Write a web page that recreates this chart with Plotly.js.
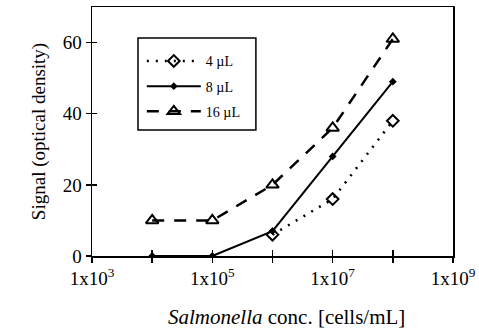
<!DOCTYPE html>
<html><head><meta charset="utf-8">
<script src="https://cdn.plot.ly/plotly-3.0.1.min.js"></script>
<style>body{margin:0;background:#fff}#c{width:479px;height:334px}</style>
</head><body><div id="c"></div>
<script>
const conc4 = [1e6, 1e7, 1e8];
const sig4 = [6, 16, 38];
const conc8 = [1e4, 1e5, 1e6, 1e7, 1e8];
const sig8 = [0, 0, 7, 28, 49];
const conc16 = [1e4, 1e5, 1e6, 1e7, 1e8];
const sig16 = [10, 10, 20, 36, 61];
const seriesNames = ['4 \u00b5L', '8 \u00b5L', '16 \u00b5L'];
const xTickVals = [1e3, 1e4, 1e5, 1e6, 1e7, 1e8, 1e9];
const xTickText = ['1x10<sup>3</sup>', '', '1x10<sup>5</sup>', '', '1x10<sup>7</sup>', '', '1x10<sup>9</sup>'];
const yTickVals = [0, 20, 40, 60];

const F = 'Liberation Serif, Times New Roman, serif';
const traces = [
  {x: conc4, y: sig4, name: seriesNames[0], legendgroup: 'a', mode: 'lines+markers',
   line: {color: '#000', width: 2.5, dash: '2px,7px'},
   marker: {symbol: 'diamond-open', size: 9, color: '#000', line: {width: 2}}},
  {x: conc8, y: sig8, name: seriesNames[1], legendgroup: 'b', mode: 'lines+markers',
   line: {color: '#000', width: 2},
   marker: {symbol: 'diamond', size: 6, color: '#000'}},
  {x: conc16, y: sig16, name: seriesNames[2], legendgroup: 'c', mode: 'lines+markers',
   line: {color: '#000', width: 2.5, dash: '12px,10px'},
   marker: {symbol: 'triangle-up-open', size: 11, color: '#000', line: {width: 2}}},
  {x: [1e3], y: [0], xaxis: 'x2', yaxis: 'y2', mode: 'markers', showlegend: false,
   hoverinfo: 'skip', marker: {opacity: 0}}
];
const layout = {
  width: 479, height: 334,
  margin: {l: 92, r: 26, t: 7, b: 78},
  paper_bgcolor: '#fff', plot_bgcolor: '#fff',
  font: {family: F, color: '#000', size: 18},
  showlegend: true,
  legend: {x: 0.138, y: 0.846, xanchor: 'left', yanchor: 'top',
    borderwidth: 0, bgcolor: 'rgba(0,0,0,0)',
    itemwidth: 54,
    font: {family: F, size: 14, color: '#000'}, tracegroupgap: 4},
  shapes: [{type: 'rect', xref: 'paper', yref: 'paper',
    x0: 0.1274, x1: 0.454, y0: 0.506, y1: 0.8755,
    line: {color: '#000', width: 1.5}, fillcolor: '#fff', layer: 'above'}],
  annotations: [{text: '<i>Salmonella</i> conc. [cells/mL]', xref: 'paper', yref: 'paper',
    x: 0.54, y: -0.245, xanchor: 'center', yanchor: 'middle', showarrow: false,
    font: {family: F, size: 21, color: '#000'}}],
  xaxis: {type: 'log', range: [3, 9], tickvals: xTickVals, ticktext: xTickText,
    ticks: 'outside', ticklen: 5, tickwidth: 1.5, tickcolor: '#000',
    showline: true, linecolor: '#000', linewidth: 1.5, mirror: true,
    showgrid: false, zeroline: false, ticklabeloverflow: 'allow',
    tickfont: {family: F, size: 19}},
  yaxis: {range: [0, 70], tickvals: yTickVals,
    ticks: 'outside', ticklen: 5, tickwidth: 1.5, tickcolor: '#000',
    showline: true, linecolor: '#000', linewidth: 1.5, mirror: true,
    showgrid: false, zeroline: false,
    tickfont: {family: F, size: 19},
    title: {text: 'Signal (optical density)', font: {family: F, size: 19}, standoff: 12}},
  xaxis2: {type: 'log', range: [3, 9], overlaying: 'x', tickvals: xTickVals,
    ticks: 'inside', ticklen: 6, tickwidth: 1.5, tickcolor: '#000',
    showticklabels: false, showgrid: false, zeroline: false, showline: false},
  yaxis2: {range: [0, 70], overlaying: 'y', tickvals: yTickVals,
    ticks: 'inside', ticklen: 5, tickwidth: 1.5, tickcolor: '#000',
    showticklabels: false, showgrid: false, zeroline: false, showline: false}
};
Plotly.newPlot('c', traces, layout, {displayModeBar: false, staticPlot: true});
</script></body></html>
